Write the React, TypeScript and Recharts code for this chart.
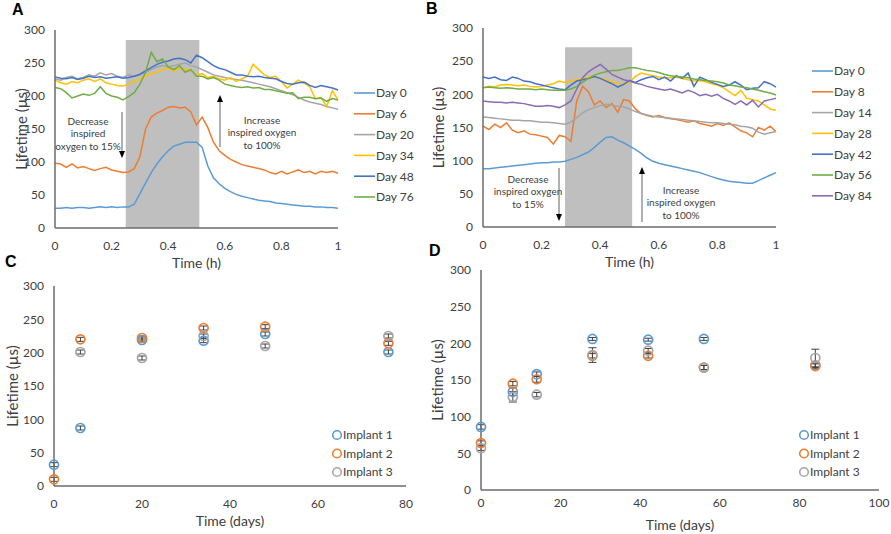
import React from 'react';
import {
  LineChart,
  Line,
  XAxis,
  YAxis,
  ReferenceArea,
  Legend,
  ScatterChart,
  Scatter,
  ErrorBar,
} from 'recharts';

const FONT = 'Lato, "Open Sans", sans-serif';
const TEXT = '#404040';
const AXIS = '#6b6b6b';

// ---------- shared ticks ----------
const tickH = [0, 0.2, 0.4, 0.6, 0.8, 1];
const tickLife = [0, 50, 100, 150, 200, 250, 300];
const tickDaysC = [0, 20, 40, 60, 80];
const tickDaysD = [0, 20, 40, 60, 80, 100];

// ---------- panel A / B time base (h) ----------
const timeH = [0, 0.02, 0.04, 0.06, 0.08, 0.1, 0.12, 0.14, 0.16, 0.18, 0.2, 0.22, 0.24, 0.26, 0.28, 0.3, 0.32, 0.34, 0.36, 0.38, 0.4, 0.42, 0.44, 0.46, 0.48, 0.5, 0.52, 0.54, 0.56, 0.58, 0.6, 0.62, 0.64, 0.66, 0.68, 0.7, 0.72, 0.74, 0.76, 0.78, 0.8, 0.82, 0.84, 0.86, 0.88, 0.9, 0.92, 0.94, 0.96, 0.98, 1];

// ---------- panel A ----------
const aLabels = ['Day 0', 'Day 6', 'Day 20', 'Day 34', 'Day 48', 'Day 76'];
const aColors = ['#5B9BD5', '#ED7D31', '#A5A5A5', '#FFC000', '#4472C4', '#70AD47'];
const aDay0 = [30, 30, 31, 30, 31, 31, 30, 31, 32, 31, 32, 31, 32, 32, 36, 52, 68, 84, 97, 108, 117, 124, 127, 130, 130, 130, 122, 94, 76, 67, 60, 55, 51, 48, 46, 44, 42, 41, 40, 38, 37, 36, 35, 34, 33, 33, 32, 32, 31, 31, 30];
const aDay6 = [98, 97, 92, 97, 91, 93, 90, 87, 90, 92, 88, 86, 84, 85, 90, 108, 150, 168, 174, 178, 183, 184, 182, 183, 176, 156, 168, 152, 130, 117, 110, 104, 100, 96, 94, 92, 90, 88, 84, 82, 86, 82, 85, 88, 84, 86, 82, 86, 84, 86, 83];
const aDay20 = [226, 224, 228, 230, 226, 228, 232, 230, 235, 232, 234, 230, 228, 232, 230, 232, 236, 240, 244, 246, 244, 246, 248, 250, 246, 244, 240, 236, 232, 230, 228, 226, 225, 224, 222, 220, 218, 216, 214, 211, 208, 205, 202, 198, 194, 191, 189, 187, 184, 182, 180];
const aDay34 = [224, 220, 218, 222, 220, 224, 226, 222, 226, 220, 218, 216, 215, 218, 222, 226, 230, 234, 236, 240, 242, 238, 242, 240, 238, 232, 234, 228, 230, 226, 224, 228, 222, 226, 230, 248, 240, 232, 228, 230, 222, 212, 218, 224, 220, 214, 196, 198, 184, 208, 194];
const aDay48 = [229, 227, 226, 228, 225, 227, 230, 228, 229, 227, 228, 229, 227, 228, 230, 233, 238, 243, 248, 251, 253, 256, 257, 255, 250, 262, 258, 252, 246, 242, 240, 236, 232, 232, 230, 229, 230, 228, 227, 226, 222, 219, 218, 220, 221, 216, 213, 216, 214, 212, 209];
const aDay76 = [213, 211, 205, 197, 200, 203, 201, 204, 214, 204, 200, 198, 194, 199, 205, 218, 236, 266, 252, 256, 244, 240, 246, 236, 240, 230, 230, 226, 228, 224, 218, 216, 214, 213, 214, 212, 213, 210, 210, 208, 206, 204, 205, 196, 198, 198, 196, 197, 192, 196, 194];
const aSeries = [aDay0, aDay6, aDay20, aDay34, aDay48, aDay76];
const shadeA = [0.25, 0.51, 285];

// ---------- panel B ----------
const bLabels = ['Day 0', 'Day 8', 'Day 14', 'Day 28', 'Day 42', 'Day 56', 'Day 84'];
const bColors = ['#5B9BD5', '#ED7D31', '#A5A5A5', '#FFC000', '#4472C4', '#70AD47', '#8B6BB5'];
const bDay0 = [88, 88, 89, 90, 91, 92, 93, 94, 95, 96, 97, 97, 98, 98, 99, 102, 105, 109, 113, 120, 128, 135, 136, 131, 127, 122, 117, 111, 104, 99, 96, 94, 92, 90, 88, 86, 84, 82, 79, 76, 73, 71, 69, 68, 67, 66, 66, 70, 74, 78, 82];
const bDay8 = [152, 147, 155, 150, 157, 146, 142, 145, 140, 139, 137, 135, 125, 138, 136, 129, 190, 212, 204, 184, 190, 180, 186, 173, 192, 190, 178, 171, 168, 166, 168, 165, 163, 162, 160, 158, 160, 156, 154, 152, 156, 153, 157, 151, 145, 142, 136, 150, 146, 152, 144];
const bDay14 = [166, 165, 164, 163, 162, 161, 161, 160, 160, 159, 158, 158, 157, 156, 155, 158, 165, 172, 177, 180, 183, 185, 184, 182, 181, 178, 174, 171, 169, 167, 166, 165, 164, 163, 162, 161, 160, 159, 158, 157, 157, 156, 155, 154, 152, 151, 149, 143, 140, 142, 144];
const bDay28 = [210, 212, 211, 214, 215, 214, 213, 214, 212, 211, 212, 214, 216, 220, 218, 220, 222, 224, 226, 228, 224, 222, 219, 216, 215, 218, 227, 232, 230, 228, 226, 225, 225, 226, 224, 222, 220, 221, 219, 216, 214, 210, 204, 198, 206, 194, 192, 190, 184, 178, 176];
const bDay42 = [226, 224, 226, 222, 221, 226, 224, 220, 219, 216, 214, 212, 210, 208, 207, 214, 220, 222, 224, 227, 224, 220, 216, 211, 215, 221, 218, 222, 225, 227, 222, 226, 220, 228, 224, 232, 212, 226, 222, 218, 215, 212, 214, 219, 214, 207, 209, 210, 219, 216, 211];
const bDay56 = [210, 211, 210, 209, 210, 209, 208, 208, 208, 207, 208, 207, 206, 206, 206, 208, 212, 218, 224, 229, 232, 234, 236, 236, 238, 240, 240, 238, 236, 235, 233, 230, 228, 227, 226, 225, 223, 222, 221, 220, 219, 217, 214, 213, 211, 210, 208, 206, 204, 202, 199];
const bDay84 = [190, 189, 188, 188, 187, 188, 187, 186, 184, 182, 182, 183, 182, 180, 184, 190, 208, 225, 234, 240, 245, 238, 230, 226, 222, 220, 217, 215, 212, 210, 208, 206, 208, 205, 202, 206, 203, 198, 200, 197, 200, 194, 190, 185, 190, 184, 191, 181, 190, 192, 194];
const bSeries = [bDay0, bDay8, bDay14, bDay28, bDay42, bDay56, bDay84];
const shadeB = [0.28, 0.509, 271];

// ---------- panel C ----------
const implantLabels = ['Implant 1', 'Implant 2', 'Implant 3'];
const implantColors = ['#5B9BD5', '#ED7D31', '#A5A5A5'];
const cDays1 = [0, 6, 20, 34, 48, 76];
const cLife1 = [32, 87, 219, 218, 228, 201];
const cErr1 = [3, 3, 3, 3, 3, 3];
const cDays2 = [0, 6, 20, 34, 48, 76];
const cLife2 = [10, 220, 222, 237, 239, 214];
const cErr2 = [3, 3, 3, 3, 3, 3];
const cDays3 = [6, 20, 34, 48, 76];
const cLife3 = [201, 192, 225, 210, 225];
const cErr3 = [3, 3, 3, 3, 3];

// ---------- panel D ----------
const dDays = [0, 8, 14, 28, 42, 56, 84];
const dLife1 = [86, 134, 158, 206, 205, 206, 170];
const dErr1 = [3, 5, 3, 2, 2, 2, 3];
const dLife2 = [64, 145, 151, 183, 183, 167, 169];
const dErr2 = [3, 3, 4, 3, 3, 3, 3];
const dLife3 = [57, 127, 130, 184, 190, 167, 180];
const dErr3 = [3, 7, 3, 10, 3, 3, 12];

// ---------- data builders ----------
const buildLines = (series: number[][]) =>
  timeH.map((t, i) => {
    const o: Record<string, number> = { t };
    series.forEach((s, k) => {
      o['s' + k] = s[i];
    });
    return o;
  });
const dataA = buildLines(aSeries);
const dataB = buildLines(bSeries);
const buildPts = (xs: number[], ys: number[], es: number[]) =>
  xs.map((x, i) => ({ x, y: ys[i], e: es[i] }));
const dataC = [
  buildPts(cDays1, cLife1, cErr1),
  buildPts(cDays2, cLife2, cErr2),
  buildPts(cDays3, cLife3, cErr3),
];
const dataD = [
  buildPts(dDays, dLife1, dErr1),
  buildPts(dDays, dLife2, dErr2),
  buildPts(dDays, dLife3, dErr3),
];

// ---------- helpers ----------
const tickStyle = { fontSize: 12, fill: TEXT, fontFamily: FONT };
const axisLineStyle = { stroke: AXIS, strokeWidth: 1.5 };

const yTitle = (dx: number) => (props: any) => {
  const vb = props.viewBox || { x: 0, y: 0, width: 0, height: 0 };
  const x = vb.x + dx;
  const y = vb.y + vb.height / 2;
  return (
    <text
      x={x}
      y={y}
      transform={`rotate(-90 ${x} ${y})`}
      textAnchor="middle"
      dominantBaseline="central"
      fontSize={15}
      fill={TEXT}
      fontFamily={FONT}
    >
      Lifetime (µs)
    </text>
  );
};

const xTitle = (label: string, dy: number) => (props: any) => {
  const vb = props.viewBox || { x: 0, y: 0, width: 0, height: 0 };
  return (
    <text
      x={vb.x + vb.width / 2}
      y={vb.y + dy}
      textAnchor="middle"
      fontSize={14}
      fill={TEXT}
      fontFamily={FONT}
    >
      {label}
    </text>
  );
};

function LineLegend({ labels, colors, gap }: { labels: string[]; colors: string[]; gap: number }) {
  return (
    <svg width={90} height={labels.length * gap + 12} style={{ display: 'block', overflow: 'visible' }}>
      {labels.map((l, i) => (
        <g key={l}>
          <line x1={4} x2={25} y1={10 + i * gap} y2={10 + i * gap} stroke={colors[i]} strokeWidth={1.6} />
          <text x={26} y={10 + i * gap} dy="0.36em" fontSize={12} fill={TEXT} fontFamily={FONT}>
            {l}
          </text>
        </g>
      ))}
    </svg>
  );
}

function RingLegend({ labels, colors, gap }: { labels: string[]; colors: string[]; gap: number }) {
  return (
    <svg width={90} height={labels.length * gap + 12} style={{ display: 'block', overflow: 'visible' }}>
      {labels.map((l, i) => (
        <g key={l}>
          <circle cx={6} cy={10 + i * gap} r={4.3} fill="none" stroke={colors[i]} strokeWidth={1.6} />
          <text x={12} y={10 + i * gap} dy="0.36em" fontSize={12} fill={TEXT} fontFamily={FONT}>
            {l}
          </text>
        </g>
      ))}
    </svg>
  );
}

const ring = (color: string) => (props: any) => (
  <circle cx={props.cx} cy={props.cy} r={4.5} fill="none" stroke={color} strokeWidth={1.7} />
);

function Arrow({ x, from, to }: { x: number; from: number; to: number }) {
  const dir = to > from ? 1 : -1;
  return (
    <g>
      <line x1={x} x2={x} y1={from} y2={to - dir * 6} stroke="#606060" strokeWidth={1} />
      <polygon points={`${x - 3},${to - dir * 7} ${x + 3},${to - dir * 7} ${x},${to}`} fill="#000" />
    </g>
  );
}

function Note({ x, y, lines }: { x: number; y: number; lines: string[] }) {
  return (
    <text x={x} y={y} textAnchor="middle" fontSize={10} fill={TEXT} fontFamily={FONT}>
      {lines.map((l, i) => (
        <tspan key={i} x={x} dy={i === 0 ? 0 : 12.3}>
          {l}
        </tspan>
      ))}
    </text>
  );
}

const letterStyle = { fontFamily: '"Liberation Sans", Arial, sans-serif', fontWeight: 700, fontSize: 16, fill: '#000' } as const;

export default function App() {
  return (
    <div
      style={{
        position: 'absolute',
        left: 0,
        top: 0,
        width: 891,
        height: 534,
        background: '#fff',
        overflow: 'hidden',
        fontFamily: FONT,
      }}
    >
      {/* Panel A */}
      <div style={{ position: 'absolute', left: 0, top: 0 }}>
        <LineChart width={440} height={280} data={dataA} margin={{ top: 30, right: 102, bottom: 12, left: 0 }}>
          <XAxis
            dataKey="t"
            type="number"
            domain={[0, 1]}
            ticks={tickH}
            height={40}
            tickLine={false}
            tickSize={0}
            tickMargin={13}
            axisLine={axisLineStyle}
            tick={tickStyle}
            label={xTitle('Time (h)', 40)}
          />
          <YAxis
            type="number"
            domain={[0, 300]}
            ticks={tickLife}
            width={55}
            tickLine={false}
            tickSize={0}
            tickMargin={10}
            axisLine={axisLineStyle}
            tick={tickStyle}
            label={yTitle(21)}
          />
          <ReferenceArea x1={shadeA[0]} x2={shadeA[1]} y1={0} y2={shadeA[2]} fill="#BFBFBF" fillOpacity={1} stroke="none" />
          {aSeries.map((_, k) => (
            <Line
              key={k}
              dataKey={'s' + k}
              name={aLabels[k]}
              type="linear"
              stroke={aColors[k]}
              strokeWidth={1.5}
              dot={false}
              isAnimationActive={false}
            />
          ))}
          <Legend
            layout="vertical"
            align="center"
            verticalAlign="middle"
            wrapperStyle={{ left: 350, top: 83, width: 100, height: 140 }}
            content={() => <LineLegend labels={aLabels} colors={aColors} gap={20.8} />}
          />
        </LineChart>
      </div>

      {/* Panel B */}
      <div style={{ position: 'absolute', left: 425, top: 0 }}>
        <LineChart width={466} height={280} data={dataB} margin={{ top: 28, right: 115, bottom: 13, left: 0 }}>
          <XAxis
            dataKey="t"
            type="number"
            domain={[0, 1]}
            ticks={tickH}
            height={40}
            tickLine={false}
            tickSize={0}
            tickMargin={13}
            axisLine={axisLineStyle}
            tick={tickStyle}
            label={xTitle('Time (h)', 40)}
          />
          <YAxis
            type="number"
            domain={[0, 300]}
            ticks={tickLife}
            width={58}
            tickLine={false}
            tickSize={0}
            tickMargin={10}
            axisLine={axisLineStyle}
            tick={tickStyle}
            label={yTitle(13)}
          />
          <ReferenceArea x1={shadeB[0]} x2={shadeB[1]} y1={0} y2={shadeB[2]} fill="#BFBFBF" fillOpacity={1} stroke="none" />
          {bSeries.map((_, k) => (
            <Line
              key={k}
              dataKey={'s' + k}
              name={bLabels[k]}
              type="linear"
              stroke={bColors[k]}
              strokeWidth={1.5}
              dot={false}
              isAnimationActive={false}
            />
          ))}
          <Legend
            layout="vertical"
            align="center"
            verticalAlign="middle"
            wrapperStyle={{ left: 383, top: 61, width: 100, height: 160 }}
            content={() => <LineLegend labels={bLabels} colors={bColors} gap={20.8} />}
          />
        </LineChart>
      </div>

      {/* Panel C */}
      <div style={{ position: 'absolute', left: 0, top: 250 }}>
        <ScatterChart width={440} height={284} margin={{ top: 36, right: 34, bottom: 8, left: 0 }}>
          <XAxis
            dataKey="x"
            type="number"
            domain={[0, 80]}
            ticks={tickDaysC}
            height={40}
            tickLine={false}
            tickSize={0}
            tickMargin={13}
            axisLine={axisLineStyle}
            tick={tickStyle}
            label={xTitle('Time (days)', 40)}
          />
          <YAxis
            dataKey="y"
            type="number"
            domain={[0, 300]}
            ticks={tickLife}
            width={54}
            tickLine={false}
            tickSize={0}
            tickMargin={10}
            axisLine={axisLineStyle}
            tick={tickStyle}
            label={yTitle(12)}
          />
          {dataC.map((d, k) => (
            <Scatter key={k} name={implantLabels[k]} data={d} shape={ring(implantColors[k])} isAnimationActive={false}>
              <ErrorBar dataKey="e" direction="y" width={4} strokeWidth={1} stroke="#404040" />
            </Scatter>
          ))}
          <Legend
            layout="vertical"
            align="center"
            verticalAlign="middle"
            wrapperStyle={{ left: 331, top: 175, width: 100, height: 70 }}
            content={() => <RingLegend labels={implantLabels} colors={implantColors} gap={18.5} />}
          />
        </ScatterChart>
      </div>

      {/* Panel D */}
      <div style={{ position: 'absolute', left: 425, top: 250 }}>
        <ScatterChart width={466} height={284} margin={{ top: 20, right: 12, bottom: 4, left: 0 }}>
          <XAxis
            dataKey="x"
            type="number"
            domain={[0, 100]}
            ticks={tickDaysD}
            height={40}
            tickLine={false}
            tickSize={0}
            tickMargin={8}
            axisLine={axisLineStyle}
            tick={tickStyle}
            label={xTitle('Time (days)', 40)}
          />
          <YAxis
            dataKey="y"
            type="number"
            domain={[0, 300]}
            ticks={tickLife}
            width={56}
            tickLine={false}
            tickSize={0}
            tickMargin={10}
            axisLine={axisLineStyle}
            tick={tickStyle}
            label={yTitle(12)}
          />
          {dataD.map((d, k) => (
            <Scatter key={k} name={implantLabels[k]} data={d} shape={ring(implantColors[k])} isAnimationActive={false}>
              <ErrorBar dataKey="e" direction="y" width={4} strokeWidth={1} stroke="#404040" />
            </Scatter>
          ))}
          <Legend
            layout="vertical"
            align="center"
            verticalAlign="middle"
            wrapperStyle={{ left: 373, top: 175, width: 100, height: 70 }}
            content={() => <RingLegend labels={implantLabels} colors={implantColors} gap={18.5} />}
          />
        </ScatterChart>
      </div>

      {/* Overlay: panel letters and annotations */}
      <svg
        width={891}
        height={534}
        style={{ position: 'absolute', left: 0, top: 0, pointerEvents: 'none' }}
      >
        <text x={12} y={15} style={letterStyle}>A</text>
        <text x={426} y={14} style={letterStyle}>B</text>
        <text x={5} y={267} style={letterStyle}>C</text>
        <text x={429} y={256} style={letterStyle}>D</text>

        <Note x={88} y={125} lines={['Decrease', 'inspired', 'oxygen to 15%']} />
        <Arrow x={122} from={112} to={158} />
        <Note x={262} y={124} lines={['Increase', 'inspired oxygen', 'to 100%']} />
        <Arrow x={220} from={147} to={95} />

        <Note x={528} y={183} lines={['Decrease', 'inspired oxygen', 'to 15%']} />
        <Arrow x={559} from={168} to={221} />
        <Note x={681} y={194} lines={['Increase', 'inspired oxygen', 'to 100%']} />
        <Arrow x={642} from={222} to={167} />
      </svg>
    </div>
  );
}
